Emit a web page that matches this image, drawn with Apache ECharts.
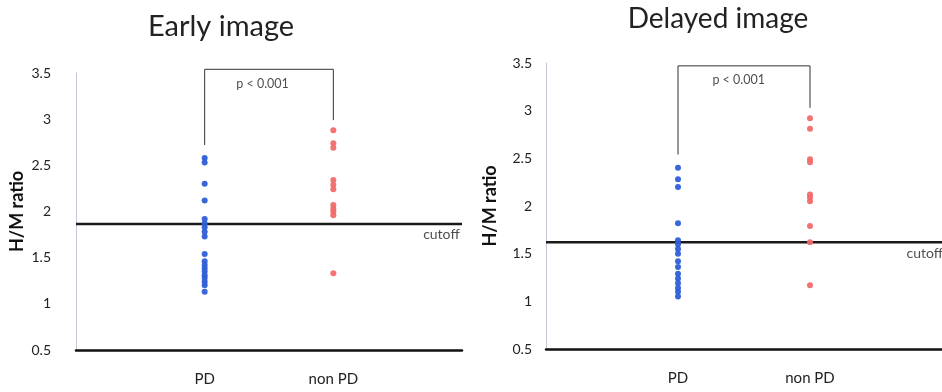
<!DOCTYPE html>
<html><head><meta charset="utf-8">
<script src="https://cdn.jsdelivr.net/npm/echarts@6/dist/echarts.min.js"></script>
<style>html,body{margin:0;padding:0;background:#fff}#c{width:942px;height:392px}</style>
</head><body><div id="c"></div>
<script>
const categories = ['', 'PD', 'non PD', ''];
const yTicks = [0.5, 1, 1.5, 2, 2.5, 3, 3.5];
const titles = ['Early image', 'Delayed image'];
const earlyPD = [2.58, 2.53, 2.30, 2.12, 1.92, 1.87, 1.83, 1.78, 1.73, 1.54, 1.46, 1.42, 1.385, 1.35, 1.31, 1.28, 1.24, 1.20, 1.13];
const earlyNonPD = [2.88, 2.74, 2.69, 2.34, 2.29, 2.24, 2.07, 2.03, 2.00, 1.96, 1.33];
const delayedPD = [2.40, 2.28, 2.20, 1.82, 1.64, 1.60, 1.55, 1.50, 1.42, 1.36, 1.29, 1.24, 1.19, 1.14, 1.10, 1.05];
const delayedNonPD = [2.92, 2.81, 2.49, 2.46, 2.12, 2.09, 2.05, 1.79, 1.62, 1.17];
const cutoffs = [1.865, 1.62];
const pText = 'p < 0.001';
const cutoffText = 'cutoff';
const brackets = [
  [[1, 2.72], [1, 3.54], [2, 3.54], [2, 2.99]],
  [[1, 2.54], [1, 3.47], [2, 3.47], [2, 3.03]]
];
const pLabelPos = [[1.45, 3.38], [1.46, 3.32]];
const cutoffLabelPos = [[2.84, 1.746], [2.87, 1.497]];

const FONT = 'Lato, "Open Sans", sans-serif';
const chart = echarts.init(document.getElementById('c'), null, {renderer: 'canvas'});
const grids = [
  {left: 76, width: 386, top: 73, height: 277},
  {left: 546, width: 396, top: 63, height: 286}
];
function xAxis(i) {
  return {
    type: 'value', gridIndex: i, min: 0, max: 3, interval: 1,
    splitLine: {show: false}, axisTick: {show: false},
    axisLine: {show: true, onZero: false, lineStyle: {color: '#111', width: 2.5}},
    axisLabel: {formatter: v => categories[Math.round(v)] || '', fontSize: 15, color: '#222', margin: 22, fontFamily: FONT,
      showMinLabel: false, showMaxLabel: false}
  };
}
function yAxis(i, gap, margin) {
  return {
    type: 'value', gridIndex: i, min: 0.5, max: 3.5, interval: 0.5,
    splitLine: {show: false}, axisTick: {show: false},
    axisLine: {show: true, lineStyle: {color: '#c4c7d4', width: 1}},
    axisLabel: {formatter: v => yTicks.includes(v) ? String(v) : '', fontSize: 14, color: '#222', margin: margin, fontFamily: FONT},
    name: 'H/M ratio', nameLocation: 'middle', nameGap: gap, nameRotate: 90,
    nameTextStyle: {fontSize: 18, fontWeight: 'bold', color: '#111', fontFamily: FONT}
  };
}
const series = [];
const dataSets = [[earlyPD, earlyNonPD], [delayedPD, delayedNonPD]];
[0, 1].forEach(i => {
  series.push({type: 'line', xAxisIndex: i, yAxisIndex: i, data: [[0, cutoffs[i]], [3, cutoffs[i]]],
    symbol: 'none', lineStyle: {color: '#1a1a1a', width: 2.5}, silent: true, z: 3});
  series.push({type: 'line', xAxisIndex: i, yAxisIndex: i, data: brackets[i], clip: false,
    symbol: 'none', lineStyle: {color: '#333', width: 1}, silent: true});
  series.push({type: 'scatter', xAxisIndex: i, yAxisIndex: i, data: dataSets[i][0].map(v => [1, v]),
    symbolSize: 6, itemStyle: {color: '#2f5fd6', opacity: 0.95}, z: 4});
  series.push({type: 'scatter', xAxisIndex: i, yAxisIndex: i, data: dataSets[i][1].map(v => [2, v]),
    symbolSize: 6, itemStyle: {color: '#f26a6a', opacity: 0.95}, z: 4});
  series.push({type: 'scatter', xAxisIndex: i, yAxisIndex: i, data: [pLabelPos[i]], symbolSize: 0,
    label: {show: true, position: 'inside', formatter: pText, fontSize: 12.5, color: '#222', fontFamily: FONT}});
  series.push({type: 'scatter', xAxisIndex: i, yAxisIndex: i, data: [cutoffLabelPos[i]], symbolSize: 0,
    label: {show: true, position: 'inside', formatter: cutoffText, fontSize: 14, color: '#222', fontFamily: FONT}});
});
chart.setOption({
  animation: false,
  title: [
    {text: titles[0], left: 216, top: 7, textAlign: 'center', textStyle: {fontSize: 29, fontWeight: 'normal', color: '#222', fontFamily: FONT}},
    {text: titles[1], left: 713, top: 0, textAlign: 'center', textStyle: {fontSize: 28, fontWeight: 'normal', color: '#222', fontFamily: FONT}}
  ],
  grid: grids,
  xAxis: [xAxis(0), xAxis(1)],
  yAxis: [yAxis(0, 50, 25), yAxis(1, 47, 14)],
  series: series
});
</script></body></html>
